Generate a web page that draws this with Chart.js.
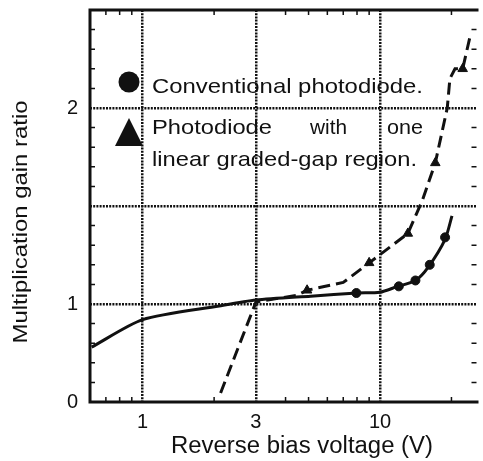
<!DOCTYPE html>
<html>
<head>
<meta charset="utf-8">
<script src="https://cdn.jsdelivr.net/npm/chart.js@4/dist/chart.umd.min.js"></script>
<style>
  html, body { margin: 0; padding: 0; background: #fff; }
  #wrap { width: 483px; height: 461px; }
</style>
</head>
<body>
<div id="wrap"><canvas id="c"></canvas></div>
<script>
// conventional photodiode (solid line, circles)
const convV = [0.61, 1, 2.1, 3, 5.1, 8, 10, 11.7, 14.1, 16, 18.8, 20.1];
const convG = [0.78, 0.92, 0.99, 1.02, 1.04, 1.056, 1.06, 1.087, 1.12, 1.19, 1.33, 1.45];
const convMarkV = [7.95, 12, 14.1, 16.2, 18.8];
const convMarkG = [1.056, 1.09, 1.12, 1.2, 1.34];
// graded-gap photodiode (dashed line, triangles)
const gradV = [2.13, 3, 4.48, 4.93, 7.0, 9.0, 13.1, 15.1, 17.1, 19.2, 19.7, 20.7, 22.3, 23.9];
const gradG = [0.546, 1.01, 1.045, 1.07, 1.11, 1.21, 1.36, 1.53, 1.72, 2.0, 2.15, 2.2, 2.2, 2.36];
const gradMarkV = [4.93, 9.0, 13.1, 17.1, 22.3];
const gradMarkG = [1.07, 1.21, 1.36, 1.72, 2.2];

const xTicks = [1, 3, 10];
const xMinor = [0.7, 0.8, 0.9, 2, 4, 5, 6, 7, 8, 9, 20];
const yTicks = [0.5, 1, 1.5, 2];
const yLabels = { 0.5: "0", 1: "1", 2: "2" };
const yMinor = [0.6, 0.7, 0.8, 0.9, 1.1, 1.2, 1.3, 1.4, 1.6, 1.7, 1.8, 1.9, 2.1, 2.2, 2.3, 2.4];

const legendText = ["Conventional photodiode.", "Photodiode", "with", "one", "linear graded-gap region."];
const xTitle = "Reverse bias voltage (V)";
const yTitle = "Multiplication gain ratio";

const FONT = '"Liberation Sans", Arial, sans-serif';
const INK = "#111";

const pts = (xs, ys) => xs.map((x, i) => ({ x: x, y: ys[i] }));

function stretchText(ctx, txt, x, y, size, w, align) {
  ctx.font = size + "px " + FONT;
  const m = ctx.measureText(txt).width;
  const sx = w ? w / m : 1;
  ctx.save();
  ctx.translate(x, y);
  ctx.scale(sx, 1);
  ctx.textAlign = align || "left";
  ctx.textBaseline = "alphabetic";
  ctx.fillText(txt, 0, 0);
  ctx.restore();
}

const decor = {
  id: "decor",
  afterDraw(chart) {
    const ctx = chart.ctx;
    const a = chart.chartArea;
    const xs = chart.scales.x, ys = chart.scales.y;
    ctx.save();
    ctx.strokeStyle = INK;
    ctx.fillStyle = INK;

    // minor ticks
    ctx.lineWidth = 1.5;
    ctx.beginPath();
    yMinor.forEach(v => {
      const p = ys.getPixelForValue(v);
      ctx.moveTo(a.left, p); ctx.lineTo(a.left + 5, p);
      ctx.moveTo(a.right, p); ctx.lineTo(a.right - 5, p);
    });
    xMinor.forEach(v => {
      const p = xs.getPixelForValue(v);
      ctx.moveTo(p, a.bottom); ctx.lineTo(p, a.bottom - 5);
      ctx.moveTo(p, a.top); ctx.lineTo(p, a.top + 5);
    });
    ctx.stroke();

    // frame (left, top, bottom)
    ctx.lineWidth = 3;
    ctx.beginPath();
    ctx.moveTo(a.right + 2, a.top);
    ctx.lineTo(a.left, a.top);
    ctx.lineTo(a.left, a.bottom);
    ctx.lineTo(a.right + 2, a.bottom);
    ctx.stroke();

    // legend
    ctx.beginPath();
    ctx.arc(129, 82, 10.5, 0, Math.PI * 2);
    ctx.fill();
    ctx.beginPath();
    ctx.moveTo(129, 118); ctx.lineTo(143, 146); ctx.lineTo(115, 146);
    ctx.closePath();
    ctx.fill();
    stretchText(ctx, legendText[0], 152, 93, 21, 271);
    stretchText(ctx, legendText[1], 152, 134, 21, 120);
    stretchText(ctx, legendText[2], 310, 134, 21, 37);
    stretchText(ctx, legendText[3], 423, 134, 21, 36, "right");
    stretchText(ctx, legendText[4], 152, 166, 21, 265);

    // axis titles
    stretchText(ctx, xTitle, 302, 453, 23, 262, "center");
    ctx.save();
    ctx.translate(27, 222);
    ctx.rotate(-Math.PI / 2);
    stretchText(ctx, yTitle, 0, 0, 21, 243, "center");
    ctx.restore();

    ctx.restore();
  }
};

const ctx = document.getElementById("c").getContext("2d");
const chart = new Chart(ctx, {
  type: "line",
  data: {
    datasets: [
      {
        label: "Conventional photodiode.",
        data: pts(convV, convG),
        borderColor: INK,
        borderWidth: 3,
        pointRadius: 0,
        tension: 0.25,
        fill: false
      },
      {
        label: "conv markers",
        data: pts(convMarkV, convMarkG),
        showLine: false,
        pointStyle: "circle",
        pointRadius: 4.5,
        backgroundColor: INK,
        borderColor: INK
      },
      {
        label: "Photodiode with one linear graded-gap region.",
        data: pts(gradV, gradG),
        borderColor: INK,
        borderWidth: 3,
        borderDash: [12, 6],
        pointRadius: 0,
        tension: 0,
        fill: false
      },
      {
        label: "graded markers",
        data: pts(gradMarkV, gradMarkG),
        showLine: false,
        pointStyle: "triangle",
        pointRadius: 5.5,
        backgroundColor: INK,
        borderColor: INK
      }
    ]
  },
  options: {
    responsive: true,
    maintainAspectRatio: false,
    animation: false,
    layout: { padding: { top: 10, right: 1, left: 0, bottom: 0 } },
    plugins: {
      legend: { display: false },
      tooltip: { enabled: false }
    },
    scales: {
      x: {
        type: "logarithmic",
        min: 0.603,
        max: 25.5,
        afterBuildTicks: s => { s.ticks = xTicks.map(v => ({ value: v })); },
        afterFit: s => { s.height = 59; s.paddingLeft = 0; s.paddingRight = 0; },
        ticks: {
          color: INK,
          padding: 8,
          maxRotation: 0,
          autoSkip: false,
          font: { family: FONT, size: 20 },
          callback: v => String(v)
        },
        grid: { color: INK, lineWidth: 2.5, drawTicks: false },
        border: { display: false, dash: [2, 1.2] }
      },
      y: {
        type: "linear",
        min: 0.5,
        max: 2.5,
        afterBuildTicks: s => { s.ticks = yTicks.map(v => ({ value: v })); },
        afterFit: s => { s.width = 90; s.paddingTop = 0; s.paddingBottom = 0; },
        ticks: {
          color: INK,
          padding: 12,
          font: { family: FONT, size: 20 },
          callback: v => yLabels[v] || ""
        },
        grid: {
          color: c => (c.tick && c.tick.value === 0.5 ? "rgba(0,0,0,0)" : INK),
          lineWidth: 2.5,
          drawTicks: false
        },
        border: { display: false, dash: [2, 1.2] }
      }
    }
  },
  plugins: [decor]
});
</script>
</body>
</html>
